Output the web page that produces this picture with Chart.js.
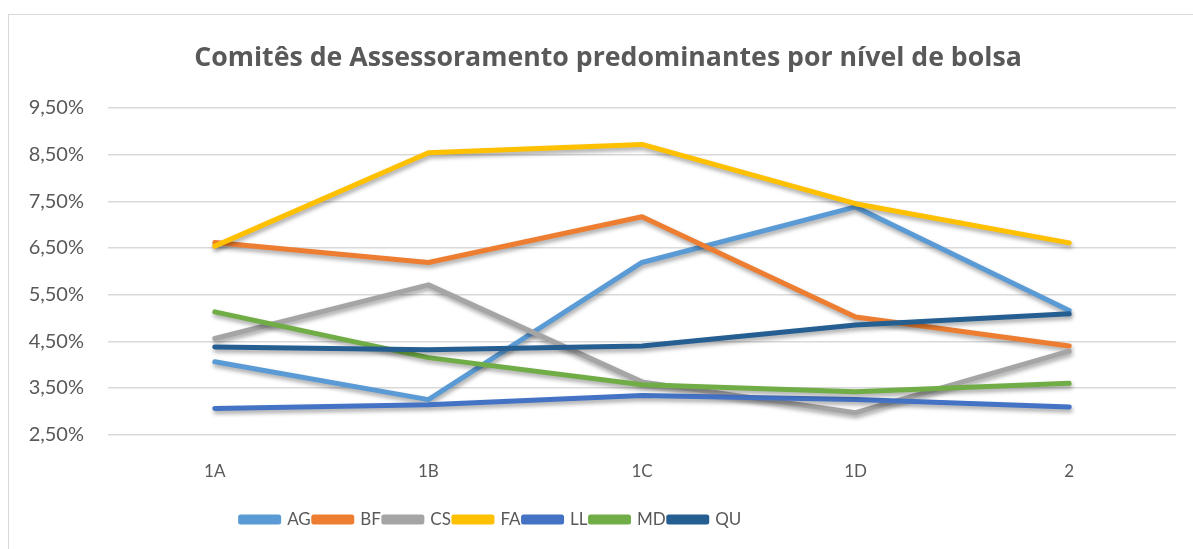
<!DOCTYPE html>
<html>
<head>
<meta charset="utf-8">
<script src="https://cdn.jsdelivr.net/npm/chart.js@4.4.1/dist/chart.umd.min.js"></script>
<style>
  html, body { margin: 0; padding: 0; background: #fff; }
  #frame { position: absolute; left: 8px; top: 14px; width: 1300px; height: 700px;
           border: 1.5px solid #d9d9d9; }
  #wrap { position: absolute; left: 0; top: 0; width: 1193px; height: 549px; }
</style>
</head>
<body>
<div id="frame"></div>
<div id="wrap"><canvas id="chart1"></canvas></div>
<script>
 // Data (percent)
 const levels = ['1A', '1B', '1C', '1D', '2'];
 const seriesNames = ['AG', 'BF', 'CS', 'FA', 'LL', 'MD', 'QU'];
 const seriesColors = ['#5B9BD5', '#ED7D31', '#A5A5A5', '#FFC000', '#4472C4', '#70AD47', '#255E91'];
 const AG = [4.06, 3.25, 6.19, 7.38, 5.16];
 const BF = [6.62, 6.19, 7.17, 5.02, 4.40];
 const CS = [4.56, 5.71, 3.63, 2.97, 4.29];
 const FA = [6.54, 8.54, 8.72, 7.45, 6.61];
 const LL = [3.06, 3.14, 3.34, 3.25, 3.09];
 const MD = [5.13, 4.15, 3.57, 3.42, 3.60];
 const QU = [4.38, 4.32, 4.40, 4.85, 5.09];
 const yTicks = [2.5, 3.5, 4.5, 5.5, 6.5, 7.5, 8.5, 9.5];

 const values = [AG, BF, CS, FA, LL, MD, QU];
 const textColor = '#595959';
 const fontFamily = 'Lato, "Open Sans", sans-serif';

 const data = {
     labels: levels,
     datasets: seriesNames.map((name, i) => ({
         label: name,
         data: values[i],
         borderColor: seriesColors[i],
         backgroundColor: seriesColors[i],
         borderWidth: 5,
         borderCapStyle: 'round',
         borderJoinStyle: 'round',
         pointRadius: 0,
         tension: 0,
         order: seriesNames.length - i   // later series drawn on top, like Excel
     }))
 };

 // soft drop shadow under the lines
 const lineShadow = {
     id: 'lineShadow',
     beforeDatasetsDraw(chart) {
         const c = chart.ctx;
         c.save();
         c.shadowColor = 'rgba(0,0,0,0.35)';
         c.shadowBlur = 4;
         c.shadowOffsetX = 1;
         c.shadowOffsetY = 3;
     },
     afterDatasetsDraw(chart) {
         chart.ctx.restore();
     }
 };

 // nudge title and legend to where the original has them
 const nudge = {
     id: 'nudge',
     afterLayout(chart) {
         chart.legend.left -= 109;
         chart.legend.right -= 109;
         chart.legend.top += 7;
         chart.legend.bottom += 7;
         chart.titleBlock.left += 8;
         chart.titleBlock.right += 8;
     }
 };

 const options = {
     responsive: true,
     maintainAspectRatio: false,
     animation: false,
     layout: { padding: { top: 42, left: 24, right: 17, bottom: 18 } },
     plugins: {
         title: {
             display: true,
             text: 'Comitês de Assessoramento predominantes por nível de bolsa',
             color: textColor,
             font: { family: '"Open Sans", sans-serif', size: 26.7, weight: 'bold' },
             padding: { top: 0, bottom: 34 }
         },
         legend: {
             position: 'bottom',
             labels: {
                 color: textColor,
                 font: { family: fontFamily, size: 17 },
                 boxWidth: 38,
                 boxHeight: 5,
                 padding: 3,
                 sort: (a, b) => a.datasetIndex - b.datasetIndex
             }
         },
         tooltip: { enabled: false }
     },
     scales: {
         x: {
             offset: true,
             grid: { display: false },
             border: { display: false },
             ticks: { color: textColor, font: { family: fontFamily, size: 17 }, padding: 19 }
         },
         y: {
             min: 2.5,
             max: 9.5,
             afterBuildTicks: (axis) => { axis.ticks = yTicks.map(v => ({ value: v })); },
             afterFit: (axis) => { axis.width = 84; },
             grid: { color: '#d9d9d9', lineWidth: 1.5, drawTicks: false },
             border: { display: false },
             ticks: {
                 color: textColor,
                 font: { family: fontFamily, size: 20 },
                 padding: 24,
                 callback: (v) => v.toFixed(2).replace('.', ',') + '%'
             }
         }
     }
 };

 const ctx = document.getElementById('chart1').getContext('2d');
 const myChart = new Chart(ctx, {
     type: 'line',
     data: data,
     options: options,
     plugins: [lineShadow, nudge]
 });
</script>
</body>
</html>
